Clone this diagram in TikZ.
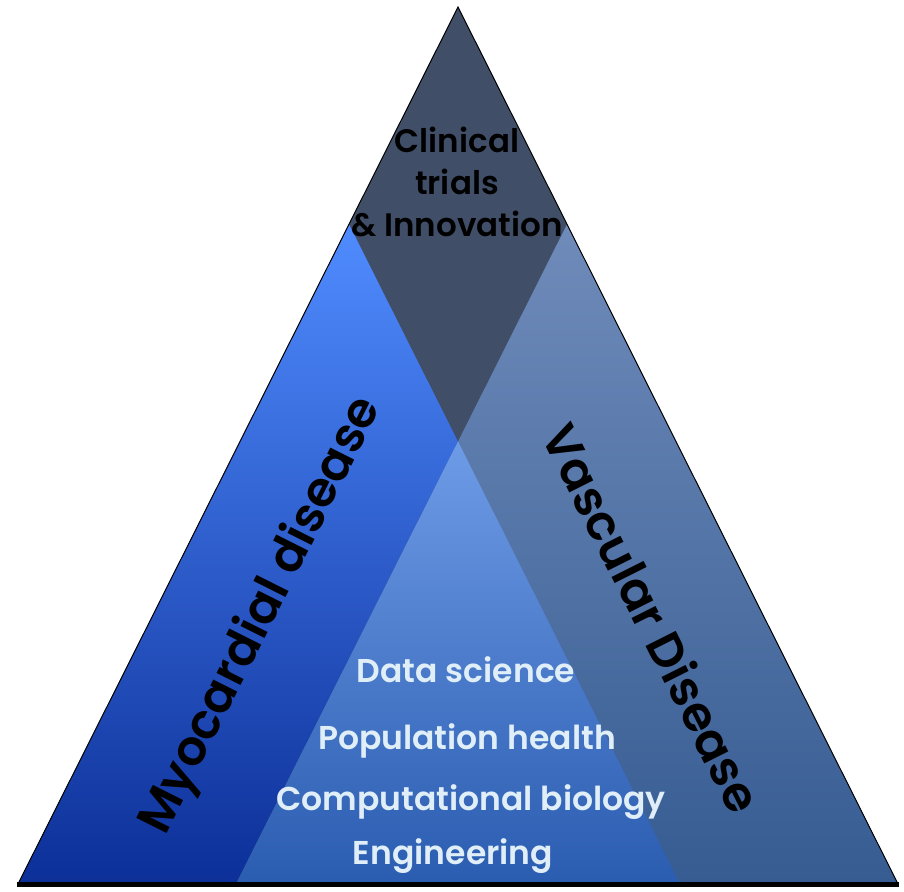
\documentclass[tikz,border=0pt]{standalone}
\usepackage{fontspec}
\setmainfont{Poppins}[BoldFont={Poppins SemiBold}]
\definecolor{darktop}{HTML}{404E68}
\definecolor{myotop}{HTML}{508CFF}
\definecolor{myobot}{HTML}{0C2F98}
\definecolor{vastop}{HTML}{6F8BBA}
\definecolor{vasbot}{HTML}{365C92}
\definecolor{midtop}{HTML}{6E9BE6}
\definecolor{midbot}{HTML}{2A5CB0}
\definecolor{paletext}{HTML}{E0EEF8}
\tikzset{
  bigtext/.style={font=\bfseries\fontsize{48.5}{54}\selectfont, text=black, inner sep=0pt},
  toptext/.style={font=\bfseries\fontsize{32.5}{42}\selectfont, text=black, align=center, inner sep=0pt},
  subtext/.style={font=\bfseries\fontsize{33}{38}\selectfont, text=paletext, inner sep=0pt},
}
\begin{document}
\begin{tikzpicture}[x=1pt,y=-1pt]
\useasboundingbox (0,0) rectangle (904,891);
\coordinate (apex) at (458,7);
\coordinate (bl) at (18,884);
\coordinate (br) at (898,884);
\coordinate (lt) at (349,224.3);
\coordinate (rt) at (567,224.3);
\coordinate (lr) at (680,884);
\coordinate (rl) at (236,884);
\coordinate (mid) at (458,441.5);
% dark top region
\fill[darktop] (apex) -- (bl) -- (br) -- cycle;
% left triangle (Myocardial)
\shade[top color=myotop, bottom color=myobot] (lt) -- (bl) -- (lr) -- cycle;
% right triangle (Vascular)
\shade[top color=vastop, bottom color=vasbot] (rt) -- (rl) -- (br) -- cycle;
% overlap
\shade[top color=midtop, bottom color=midbot] (mid) -- (rl) -- (lr) -- cycle;
% outline
\draw[black, line width=1pt] (bl) -- (apex) -- (br);
\draw[black, line width=5pt] ([xshift=-1pt]bl) -- ([xshift=1pt]br);
% texts
\node[toptext] (clin) at (457,182) {Clinical\\trials\\\& Innovation};
\node[bigtext, rotate=63.35] (myo) at (262,616) {Myocardial disease};
\node[bigtext, rotate=-63.35] (vas) at (653,618) {Vascular Disease};
\node[subtext] (ds) at (466,670) {Data science};
\node[subtext] (ph) at (467,741) {Population health};
\node[subtext] (cb) at (471,802) {Computational biology};
\node[subtext] (en) at (453,856) {Engineering};
\end{tikzpicture}
\end{document}
